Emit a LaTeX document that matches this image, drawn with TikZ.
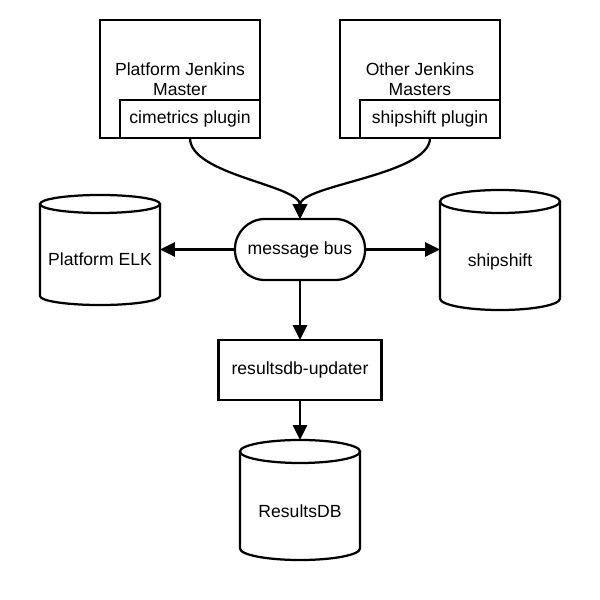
\documentclass[tikz,border=0pt]{standalone}
\usepackage{fontspec}
\setmainfont{Liberation Sans}
\usetikzlibrary{arrows.meta,positioning}

% cylinder round a store node: #1 node name, #2 half height of the cap
\newcommand{\dbcyl}[2]{%
  \coordinate (#1-top) at ([yshift=2*#2]#1.north);
  \draw[wire] ([yshift=#2]#1.north west) -- ([yshift=#2]#1.south west)
    arc[start angle=180, end angle=360, x radius=1.5cm, y radius=#2]
    -- ([yshift=#2]#1.north east);
  \draw[wire] ([yshift=#2]#1.north) ellipse[x radius=1.5cm, y radius=#2];
}

\begin{document}
\begin{tikzpicture}[x=0.025cm, y=-0.025cm, font=\fontsize{12.5}{14.2}\selectfont,
    box/.style={draw, line width=1.6pt, outer sep=0pt, inner sep=0pt, align=center},
    store/.style={outer sep=0pt, inner sep=0pt, minimum width=3cm},
    wire/.style={line width=1.6pt},
    flow/.style={wire, -{Triangle[length=10.5pt,width=10pt]}}]
    \useasboundingbox (0,0) rectangle (600,600);

    \node[box, minimum width=4cm, minimum height=2.95cm] (pjm) at (180,79) {Platform Jenkins\\Master};
    \node[box, fill=white, minimum width=3.5cm, minimum height=0.95cm, anchor=south east] (cim) at (pjm.south east) {cimetrics plugin};
    \node[box, minimum width=4cm, minimum height=2.95cm] (ojm) at (420,79) {Other Jenkins\\Masters};
    \node[box, fill=white, minimum width=3.5cm, minimum height=0.95cm, anchor=south east] (ssp) at (ojm.south east) {shipshift plugin};

    \node[box, minimum width=3.25cm, minimum height=1.525cm, rounded corners=0.75cm] (bus) at (300,249.5) {message bus};
    \node[box, minimum width=4.075cm, minimum height=1.5cm] (upd) at (300,370) {resultsdb-updater};

    \node[store, minimum height=2.3cm] (elk) at (100,259) {Platform ELK};
    \node[store, minimum height=2.425cm] (ship) at (500,261.5) {shipshift};
    \node[store, minimum height=2.425cm] (rdb) at (300,511.5) {ResultsDB};
    \dbcyl{elk}{0.225cm}
    \dbcyl{ship}{0.2875cm}
    \dbcyl{rdb}{0.2875cm}

    \draw[flow] (cim.south) .. controls +(0,37) and +(0,-34) .. (bus.north);
    \draw[flow] (ssp.south) .. controls +(0,37) and +(0,-34) .. (bus.north);
    \draw[flow] (bus.west) -- (bus.west -| elk.east);
    \draw[flow] (bus.east) -- (bus.east -| ship.west);
    \draw[flow] (bus.south) -- (upd.north);
    \draw[flow] (upd.south) -- (rdb-top);
\end{tikzpicture}
\end{document}
